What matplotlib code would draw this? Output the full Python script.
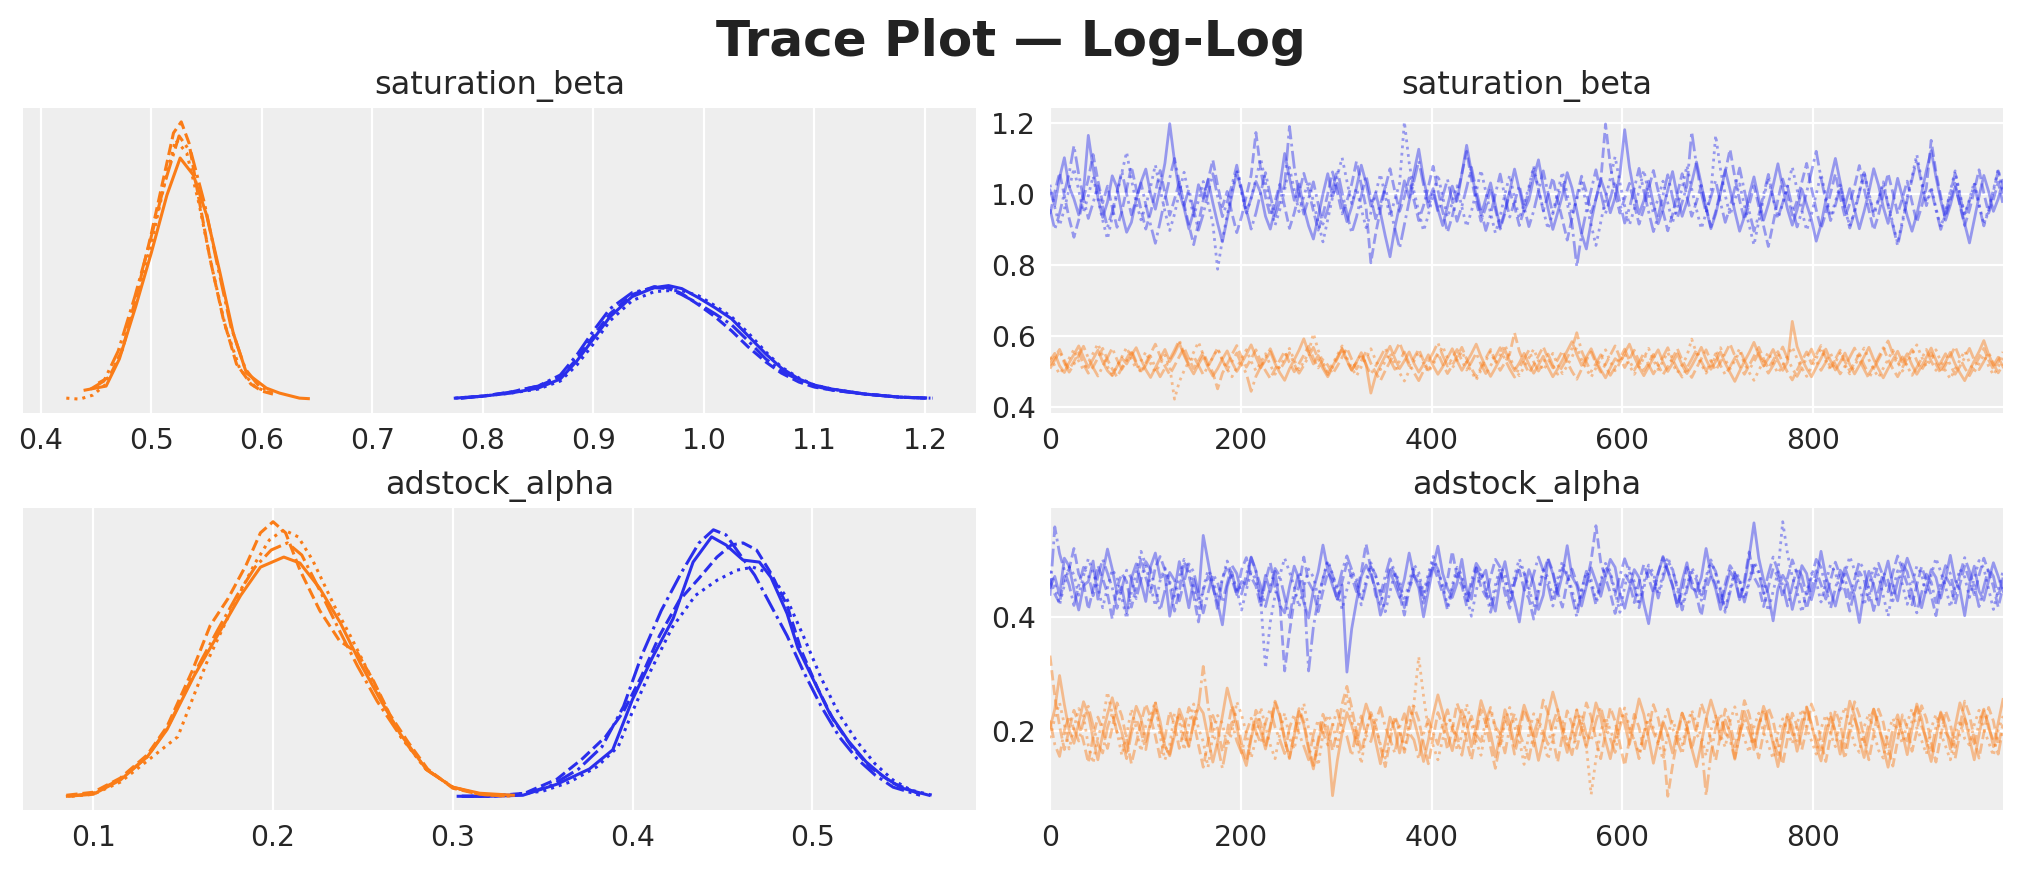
import numpy as np
import matplotlib
matplotlib.use("Agg")
import matplotlib.pyplot as plt
from matplotlib.ticker import MultipleLocator

# ---------------- data ----------------
n_draws = 1000
variables = ["saturation_beta", "adstock_alpha"]
model_colors = ["#2a2eec", "#fa7c17"]          # blue model, orange model
chain_styles = ["-", "--", ":", "-."]

# thinned posterior draws (every 5th draw), values x1000, 4 chains each
sat_beta_blue = [
    [1012, 968, 1047, 1103, 1021, 987, 942, 1008, 1166, 1074, 991, 935, 978, 1052, 1019, 947, 893, 921, 986, 1034,
     1071, 1002, 958, 1017, 1088, 1199, 1093, 1006, 961, 903, 952, 1027, 989, 1041, 976, 918, 866, 931, 998, 1062,
     1013, 947, 989, 1036, 1004, 938, 902, 957, 1023, 1115, 1047, 983, 1029, 962, 911, 874, 936, 1001, 1058, 994,
     1031, 976, 923, 965, 1019, 1082, 1032, 967, 1004, 948, 883, 824, 905, 969, 1038, 991, 1062, 1127, 1044, 979,
     1016, 958, 912, 966, 1023, 981, 1057, 1138, 1063, 996, 942, 987, 1032, 969, 907, 954, 1009, 1071, 1012, 953,
     984, 1046, 1097, 1022, 959, 901, 948, 997, 1061, 1018, 954, 888, 846, 922, 987, 1043, 1004, 948, 991, 1056,
     1182, 1076, 1003, 945, 982, 1037, 973, 917, 959, 1011, 1064, 995, 938, 979, 1033, 1091, 1028, 961, 903, 944,
     1002, 1069, 1013, 952, 896, 937, 998, 1049, 986, 927, 972, 1025, 1086, 1019, 958, 913, 956, 1014, 971, 929,
     868, 914, 983, 1042, 1101, 1035, 969, 1016, 957, 903, 952, 1007, 1072, 1026, 964, 918, 977, 1045, 992, 939,
     896, 943, 1004, 1067, 1123, 1049, 983, 927, 969, 1021, 974, 917, 863, 928, 994, 1053, 1008, 952, 987, 1039],
    [944, 1006, 1061, 997, 932, 879, 928, 989, 1043, 1112, 1039, 976, 1023, 963, 907, 951, 1014, 1078, 1016, 957,
     902, 948, 1005, 1067, 1003, 941, 986, 1034, 972, 913, 858, 919, 983, 1039, 1097, 1025, 965, 1008, 946, 892,
     937, 996, 1054, 1174, 1069, 992, 939, 981, 1028, 966, 904, 947, 1003, 1059, 1011, 953, 899, 942, 1001, 1063,
     1006, 945, 981, 1029, 1093, 1026, 962, 807, 889, 957, 1018, 1072, 1009, 952, 993, 1046, 983, 926, 968, 1021,
     1079, 1011, 951, 893, 938, 997, 1058, 1121, 1043, 979, 924, 963, 1017, 958, 902, 946, 1007, 966, 912, 957,
     1012, 1071, 1013, 954, 997, 1047, 983, 929, 871, 932, 994, 1051, 1006, 948, 987, 1036, 1198, 1082, 1004, 947,
     989, 1031, 972, 916, 959, 1015, 1067, 1009, 951, 897, 943, 1002, 1058, 994, 938, 979, 1025, 964, 908, 951,
     1008, 1063, 1127, 1048, 983, 928, 971, 1024, 968, 911, 853, 918, 985, 1043, 996, 941, 982, 1034, 1087, 1018,
     956, 903, 947, 1004, 1058, 993, 936, 974, 1022, 1081, 1016, 955, 899, 942, 1001, 1059, 1004, 945, 989, 1037,
     978, 921, 965, 1019, 1152, 1063, 994, 937, 982, 1031, 968, 912, 956, 1011, 1069, 1003, 947, 986, 1034, 972],
    [1027, 963, 912, 958, 1016, 1073, 1011, 949, 996, 1051, 986, 927, 874, 936, 1002, 1061, 1119, 1042, 976, 928,
     967, 1021, 1083, 1014, 952, 898, 944, 1005, 1062, 998, 939, 982, 1036, 975, 918, 789, 873, 941, 1009, 1068,
     1004, 946, 989, 1043, 1101, 1032, 968, 913, 957, 1013, 1076, 1012, 951, 994, 1039, 978, 921, 866, 929, 992,
     1052, 1103, 1037, 974, 1018, 959, 906, 948, 1003, 1057, 996, 938, 984, 1031, 1204, 1089, 1008, 951, 897, 941,
     999, 1056, 992, 935, 976, 1024, 964, 909, 952, 1007, 1068, 1007, 947, 891, 937, 1001, 1054, 989, 931, 973,
     1021, 1079, 1015, 956, 902, 948, 1006, 1063, 999, 942, 985, 1033, 971, 914, 856, 921, 988, 1045, 1106, 1033,
     967, 914, 958, 1011, 1068, 1004, 946, 989, 1037, 976, 921, 965, 1018, 1081, 1015, 957, 903, 947, 1004, 1166,
     1071, 997, 941, 984, 1029, 968, 912, 857, 924, 989, 1046, 986, 931, 973, 1022, 1077, 1013, 954, 898, 943,
     1001, 1058, 994, 937, 979, 1026, 965, 909, 953, 1008, 1064, 1003, 946, 988, 1035, 974, 918, 862, 926, 992,
     1049, 1112, 1041, 977, 1021, 962, 907, 951, 1009, 1066, 1002, 944, 986, 1034, 973, 915, 959, 1013, 1071, 1008],
    [958, 901, 946, 1004, 1059, 1137, 1056, 988, 932, 976, 1024, 963, 907, 951, 1008, 1065, 1001, 942, 985, 1032,
     971, 914, 862, 923, 987, 1046, 1101, 1033, 969, 1014, 956, 899, 944, 1002, 1058, 994, 937, 978, 1026, 1082,
     1016, 956, 902, 947, 1005, 1061, 997, 938, 981, 1028, 1191, 1077, 1001, 944, 988, 1035, 973, 916, 958, 1013,
     1069, 1005, 946, 891, 936, 996, 1053, 989, 931, 973, 1021, 961, 905, 848, 915, 981, 1038, 1094, 1027, 963,
     1007, 951, 994, 1042, 981, 924, 966, 1019, 1076, 1011, 953, 898, 943, 1001, 1057, 993, 936, 978, 1025, 964,
     909, 953, 1009, 1066, 1003, 945, 988, 1036, 974, 917, 796, 887, 954, 1012, 1069, 1004, 946, 989, 1037, 976,
     919, 962, 1016, 1073, 1009, 951, 895, 939, 998, 1055, 991, 934, 977, 1024, 1176, 1081, 1004, 948, 992, 1039,
     977, 921, 964, 1017, 1074, 1010, 952, 896, 941, 999, 1056, 992, 935, 976, 1023, 963, 908, 952, 1006, 1063,
     1121, 1046, 981, 926, 969, 1021, 961, 905, 949, 1004, 1061, 997, 939, 982, 1029, 968, 912, 855, 919, 985,
     1041, 1098, 1031, 968, 1013, 956, 901, 945, 1003, 1059, 995, 938, 981, 1028, 967, 911, 955, 1009, 1066, 1002],
]
sat_beta_orange = [
    [531, 552, 517, 498, 526, 549, 573, 541, 512, 536, 561, 528, 503, 489, 515, 539, 522, 547, 568, 535,
     506, 484, 511, 538, 563, 529, 552, 581, 546, 517, 494, 521, 544, 513, 488, 509, 536, 559, 527, 501,
     524, 549, 576, 542, 511, 533, 557, 523, 497, 476, 508, 534, 561, 593, 553, 522, 546, 518, 492, 515,
     541, 566, 532, 505, 528, 554, 521, 440, 489, 518, 545, 572, 538, 509, 531, 556, 524, 499, 521, 548,
     517, 493, 514, 539, 565, 531, 504, 527, 551, 578, 543, 514, 487, 511, 537, 562, 529, 503, 525, 552,
     521, 496, 519, 544, 512, 486, 508, 533, 559, 585, 549, 518, 541, 565, 532, 506, 483, 511, 537, 526,
     553, 578, 542, 513, 489, 514, 539, 562, 528, 501, 524, 551, 519, 495, 517, 542, 569, 535, 507, 529,
     556, 524, 498, 473, 502, 529, 554, 583, 547, 516, 538, 563, 531, 504, 527, 642, 571, 536, 509, 486,
     512, 538, 564, 531, 505, 527, 553, 521, 494, 518, 543, 569, 535, 508, 483, 509, 534, 558, 527, 551,
     519, 493, 516, 541, 567, 533, 506, 528, 555, 522, 497, 475, 504, 531, 557, 588, 549, 518, 541, 514],
    [518, 541, 563, 532, 507, 529, 554, 521, 496, 514, 539, 566, 534, 508, 485, 511, 537, 561, 528, 502,
     525, 551, 578, 544, 516, 492, 517, 543, 568, 536, 509, 531, 555, 523, 498, 452, 496, 522, 549, 574,
     541, 513, 537, 562, 529, 503, 481, 508, 533, 558, 526, 500, 523, 547, 572, 538, 511, 534, 519, 494,
     516, 541, 567, 535, 508, 531, 557, 524, 498, 475, 503, 529, 554, 582, 546, 517, 539, 564, 531, 505,
     528, 553, 521, 495, 518, 543, 569, 536, 509, 486, 512, 538, 563, 530, 504, 526, 551, 610, 558, 524,
     497, 519, 545, 571, 537, 511, 534, 559, 527, 501, 479, 507, 533, 556, 524, 499, 521, 547, 573, 540,
     512, 536, 561, 529, 503, 525, 549, 518, 492, 514, 539, 565, 533, 507, 484, 511, 537, 562, 530, 504,
     527, 552, 579, 545, 516, 493, 518, 544, 569, 537, 510, 532, 557, 525, 499, 477, 505, 531, 556, 523,
     548, 574, 540, 513, 536, 561, 529, 502, 525, 551, 519, 494, 516, 542, 568, 535, 508, 486, 512, 538,
     563, 531, 505, 528, 553, 522, 496, 519, 544, 571, 538, 511, 489, 515, 540, 566, 533, 507, 530, 556],
    [542, 517, 494, 513, 538, 563, 530, 505, 527, 552, 579, 545, 515, 491, 517, 542, 569, 536, 508, 531,
     556, 524, 499, 521, 547, 514, 423, 472, 503, 529, 555, 584, 548, 518, 540, 565, 533, 507, 486, 511,
     537, 562, 529, 503, 526, 551, 519, 493, 515, 540, 566, 532, 506, 528, 554, 608, 561, 526, 500, 522,
     547, 573, 539, 511, 488, 514, 539, 565, 533, 506, 529, 554, 522, 497, 474, 503, 530, 556, 524, 499,
     521, 546, 572, 538, 510, 533, 558, 526, 500, 477, 505, 531, 557, 525, 548, 576, 541, 512, 489, 514,
     539, 564, 531, 504, 527, 552, 520, 495, 517, 542, 569, 535, 508, 485, 511, 536, 562, 529, 503, 525,
     551, 518, 493, 514, 539, 566, 533, 506, 530, 555, 523, 497, 519, 545, 592, 552, 521, 496, 518, 543,
     568, 535, 508, 531, 557, 524, 498, 476, 504, 530, 555, 522, 496, 519, 544, 570, 537, 510, 487, 513,
     538, 564, 531, 505, 527, 553, 520, 494, 517, 541, 567, 534, 507, 484, 510, 535, 561, 528, 502, 525,
     550, 576, 542, 514, 537, 562, 529, 503, 480, 508, 533, 559, 526, 500, 523, 548, 516, 491, 514, 539],
    [509, 533, 558, 525, 499, 521, 546, 572, 539, 512, 488, 515, 540, 567, 534, 507, 530, 555, 523, 497,
     519, 544, 512, 486, 510, 535, 561, 589, 551, 521, 544, 518, 492, 515, 541, 567, 533, 506, 529, 553,
     521, 495, 445, 487, 514, 539, 565, 532, 506, 528, 554, 521, 496, 518, 543, 569, 536, 509, 486, 512,
     537, 563, 530, 504, 526, 551, 519, 493, 516, 541, 567, 534, 507, 530, 556, 523, 498, 475, 503, 529,
     554, 582, 546, 516, 538, 563, 531, 505, 527, 553, 521, 495, 517, 542, 568, 535, 508, 485, 511, 536,
     561, 528, 502, 525, 550, 518, 493, 515, 540, 566, 610, 559, 527, 501, 523, 548, 516, 490, 513, 538,
     564, 531, 505, 527, 553, 520, 494, 517, 542, 568, 535, 508, 485, 511, 536, 562, 529, 503, 525, 551,
     518, 492, 514, 539, 565, 532, 506, 528, 554, 521, 496, 518, 543, 570, 537, 510, 487, 513, 538, 564,
     531, 504, 527, 552, 520, 494, 516, 541, 567, 534, 507, 481, 509, 534, 560, 587, 550, 519, 542, 516,
     490, 512, 537, 563, 530, 504, 526, 551, 519, 493, 515, 540, 566, 533, 506, 529, 555, 522, 497, 520],
]
adstock_alpha_blue = [
    [452, 471, 438, 503, 489, 447, 412, 455, 462, 498, 431, 476, 519, 484, 441, 452, 407, 468, 493, 461,
     427, 488, 512, 469, 473, 401, 446, 497, 458, 416, 466, 432, 543, 497, 451, 424, 386, 453, 478, 439,
     462, 457, 505, 481, 428, 473, 444, 480, 420, 407, 452, 489, 466, 425, 398, 447, 479, 526, 483, 455,
     431, 456, 303, 379, 427, 471, 491, 474, 449, 403, 428, 481, 457, 434, 466, 512, 472, 451, 400, 445,
     488, 524, 476, 450, 434, 459, 501, 447, 431, 486, 467, 482, 436, 410, 465, 497, 453, 427, 391, 448,
     483, 459, 413, 438, 500, 476, 440, 474, 525, 471, 455, 419, 454, 486, 462, 436, 471, 501, 487, 441,
     415, 451, 483, 469, 423, 388, 444, 478, 504, 480, 454, 418, 463, 495, 451, 445, 469, 520, 476, 449,
     413, 448, 480, 466, 430, 455, 506, 565, 503, 465, 439, 393, 449, 473, 459, 413, 448, 490, 476, 430,
     464, 515, 471, 445, 419, 454, 486, 462, 436, 390, 446, 480, 456, 421, 466, 498, 454, 428, 472, 503,
     479, 452, 416, 451, 483, 469, 433, 467, 508, 464, 448, 402, 457, 489, 445, 429, 464, 495, 471, 445],
    [466, 440, 424, 470, 484, 520, 475, 459, 413, 448, 490, 467, 441, 396, 452, 476, 462, 417, 451, 503,
     469, 443, 487, 506, 482, 456, 410, 445, 497, 473, 437, 391, 447, 471, 457, 412, 467, 489, 465, 439,
     483, 504, 470, 454, 418, 463, 495, 451, 425, 305, 372, 430, 454, 505, 461, 445, 409, 445, 478, 464,
     428, 462, 494, 470, 444, 478, 528, 484, 438, 422, 457, 489, 475, 439, 403, 449, 473, 459, 424, 459,
     491, 467, 441, 465, 515, 471, 455, 419, 454, 486, 452, 436, 470, 501, 487, 441, 415, 460, 482, 448,
     432, 396, 442, 476, 503, 479, 443, 417, 462, 484, 460, 434, 458, 499, 560, 496, 468, 442, 406, 441,
     475, 461, 425, 460, 492, 468, 442, 476, 506, 482, 456, 420, 445, 487, 463, 437, 402, 448, 472, 458,
     423, 458, 490, 476, 430, 464, 514, 470, 454, 418, 453, 485, 471, 435, 469, 500, 476, 450, 414, 449,
     481, 457, 431, 465, 496, 472, 446, 410, 446, 479, 465, 429, 463, 494, 470, 444, 478, 507, 483, 457,
     421, 456, 488, 464, 438, 402, 447, 471, 457, 422, 457, 489, 465, 439, 473, 503, 479, 453, 417, 452],
    [481, 457, 421, 456, 488, 474, 438, 472, 502, 478, 452, 416, 451, 483, 469, 433, 397, 443, 477, 515,
     491, 455, 419, 464, 486, 462, 436, 470, 501, 487, 451, 415, 450, 482, 468, 432, 467, 498, 474, 448,
     412, 447, 479, 465, 429, 310, 391, 438, 473, 503, 479, 453, 417, 452, 484, 470, 434, 468, 499, 475,
     449, 413, 448, 480, 466, 430, 464, 495, 471, 445, 409, 444, 477, 463, 427, 461, 492, 478, 442, 476,
     506, 482, 456, 420, 455, 487, 473, 437, 401, 446, 480, 456, 421, 456, 488, 474, 438, 472, 502, 478,
     452, 416, 451, 483, 469, 433, 467, 498, 474, 448, 412, 447, 479, 465, 429, 463, 494, 480, 444, 408,
     453, 486, 462, 426, 460, 491, 477, 441, 475, 505, 481, 455, 419, 454, 486, 472, 436, 470, 500, 476,
     450, 414, 449, 481, 467, 431, 465, 496, 482, 446, 410, 445, 478, 567, 511, 470, 444, 408, 443, 476,
     462, 426, 461, 492, 478, 442, 476, 506, 482, 456, 420, 455, 487, 473, 437, 401, 447, 481, 457, 422,
     457, 489, 475, 439, 473, 503, 479, 453, 417, 452, 484, 470, 434, 468, 499, 485, 449, 413, 448, 480],
    [437, 558, 511, 482, 456, 420, 455, 487, 473, 437, 471, 501, 477, 451, 415, 450, 482, 468, 432, 466,
     497, 483, 447, 411, 446, 478, 464, 428, 462, 493, 479, 443, 407, 442, 475, 461, 425, 459, 490, 476,
     440, 474, 504, 480, 454, 418, 453, 485, 471, 435, 399, 445, 479, 455, 305, 382, 431, 466, 497, 473,
     447, 481, 507, 483, 457, 421, 456, 488, 474, 438, 472, 502, 478, 452, 416, 451, 483, 469, 433, 467,
     498, 484, 448, 412, 447, 479, 465, 429, 463, 494, 480, 444, 408, 443, 476, 462, 426, 460, 491, 477,
     441, 475, 505, 481, 455, 419, 454, 486, 472, 436, 400, 446, 480, 456, 421, 456, 488, 474, 438, 472,
     502, 478, 452, 416, 451, 483, 469, 433, 467, 498, 484, 448, 412, 447, 479, 465, 429, 463, 494, 480,
     444, 408, 443, 476, 462, 426, 460, 491, 477, 441, 475, 505, 481, 455, 419, 454, 486, 472, 436, 470,
     501, 487, 451, 415, 450, 482, 468, 432, 466, 497, 483, 447, 411, 446, 478, 464, 428, 462, 493, 479,
     443, 407, 442, 475, 461, 425, 459, 490, 476, 440, 474, 504, 480, 454, 418, 453, 485, 471, 435, 469],
]
adstock_alpha_orange = [
    [205, 238, 297, 246, 201, 178, 213, 251, 229, 186, 149, 194, 229, 258, 224, 197, 162, 208, 243, 222,
     181, 214, 249, 216, 173, 156, 192, 238, 215, 174, 211, 244, 231, 188, 145, 181, 226, 275, 242, 207,
     163, 139, 186, 221, 199, 168, 204, 249, 226, 184, 153, 191, 234, 211, 166, 133, 179, 214, 191, 86,
     148, 196, 232, 209, 177, 213, 247, 222, 181, 142, 179, 224, 201, 161, 197, 242, 219, 187, 146, 183,
     228, 263, 232, 194, 165, 201, 236, 213, 172, 208, 253, 227, 195, 154, 191, 237, 214, 173, 209, 245,
     221, 189, 148, 185, 231, 268, 237, 196, 162, 201, 236, 203, 171, 207, 249, 224, 182, 151, 193, 239,
     212, 176, 214, 256, 229, 187, 143, 181, 216, 194, 161, 198, 231, 208, 169, 137, 178, 221, 254, 226,
     185, 219, 196, 152, 191, 234, 209, 167, 206, 243, 218, 176, 137, 182, 229, 207, 164, 199, 241, 213,
     173, 147, 189, 224, 198, 159, 204, 252, 227, 184, 153, 195, 238, 212, 171, 136, 176, 219, 196, 158,
     202, 247, 221, 179, 146, 188, 233, 209, 168, 207, 249, 224, 186, 149, 193, 235, 211, 172, 214, 255],
    [332, 261, 208, 167, 202, 236, 213, 181, 144, 189, 224, 201, 169, 205, 249, 226, 185, 142, 178, 214,
     247, 223, 191, 152, 188, 234, 211, 169, 204, 241, 217, 175, 136, 182, 227, 204, 163, 199, 244, 221,
     178, 146, 191, 236, 213, 172, 208, 252, 229, 186, 151, 196, 239, 216, 173, 139, 184, 229, 206, 165,
     201, 247, 278, 241, 199, 163, 198, 232, 209, 171, 137, 181, 226, 203, 162, 198, 243, 219, 178, 142,
     187, 232, 209, 167, 203, 248, 225, 183, 149, 194, 237, 213, 171, 134, 179, 224, 201, 159, 194, 238,
     214, 173, 208, 254, 231, 188, 145, 191, 235, 212, 169, 205, 249, 225, 184, 151, 196, 241, 217, 176,
     139, 184, 229, 206, 165, 201, 246, 222, 181, 85, 139, 186, 231, 208, 167, 203, 248, 224, 182, 148,
     193, 238, 214, 172, 208, 253, 229, 187, 152, 197, 241, 218, 176, 141, 186, 231, 208, 167, 203, 247,
     223, 181, 146, 191, 236, 212, 170, 206, 251, 227, 185, 149, 194, 238, 215, 173, 138, 183, 228, 205,
     164, 199, 244, 221, 179, 145, 190, 235, 212, 171, 207, 252, 228, 186, 152, 197, 241, 217, 175, 211],
    [187, 222, 249, 211, 168, 204, 239, 226, 174, 143, 189, 214, 268, 229, 198, 157, 193, 238, 205, 164,
     210, 225, 252, 190, 149, 175, 231, 218, 166, 212, 247, 204, 181, 136, 192, 227, 213, 172, 197, 251,
     228, 196, 152, 186, 241, 207, 175, 151, 196, 231, 188, 167, 213, 248, 204, 183, 139, 194, 228, 214,
     172, 217, 262, 218, 186, 142, 197, 231, 208, 176, 152, 197, 222, 199, 168, 214, 249, 330, 261, 203,
     174, 149, 185, 220, 217, 166, 192, 247, 213, 181, 157, 202, 236, 203, 171, 216, 241, 207, 185, 141,
     196, 230, 216, 184, 150, 185, 220, 217, 176, 192, 237, 214, 172, 88, 151, 199, 224, 201, 179, 215,
     240, 206, 184, 160, 195, 229, 205, 183, 149, 194, 219, 196, 175, 211, 236, 212, 190, 156, 201, 226,
     193, 171, 217, 242, 208, 186, 162, 207, 231, 197, 175, 151, 196, 221, 198, 177, 213, 238, 204, 183,
     159, 204, 228, 194, 172, 217, 242, 208, 176, 162, 207, 231, 198, 166, 152, 197, 222, 199, 178, 214,
     239, 205, 183, 159, 204, 229, 195, 173, 149, 194, 219, 186, 175, 211, 236, 202, 180, 156, 201, 226],
    [218, 176, 155, 201, 226, 203, 182, 218, 243, 209, 177, 161, 206, 231, 197, 185, 151, 196, 221, 198,
     167, 213, 238, 204, 173, 159, 204, 228, 194, 172, 217, 242, 313, 244, 196, 175, 134, 180, 215, 182,
     161, 197, 222, 199, 178, 214, 239, 206, 184, 160, 205, 229, 195, 173, 149, 194, 219, 196, 175, 211,
     236, 202, 190, 156, 201, 226, 192, 181, 216, 241, 207, 185, 161, 206, 230, 196, 184, 150, 195, 220,
     197, 176, 212, 237, 203, 191, 157, 202, 226, 193, 181, 216, 241, 207, 195, 161, 206, 230, 196, 174,
     150, 195, 220, 197, 176, 212, 237, 204, 182, 158, 203, 227, 194, 182, 217, 242, 208, 186, 162, 207,
     231, 197, 185, 151, 196, 221, 198, 177, 213, 238, 204, 183, 159, 204, 228, 194, 182, 86, 159, 205,
     230, 196, 184, 150, 195, 220, 197, 176, 212, 237, 204, 182, 158, 203, 227, 194, 182, 217, 242, 208,
     186, 162, 207, 231, 197, 185, 151, 196, 221, 198, 177, 213, 238, 204, 183, 159, 204, 228, 194, 182,
     217, 242, 208, 186, 162, 207, 231, 197, 185, 151, 196, 221, 198, 177, 213, 238, 204, 183, 159, 204],
]

# per-chain kernel density estimates (relative density units)
sat_beta_blue_kde_x = [
    [0.775, 0.80, 0.825, 0.85, 0.87, 0.885, 0.90, 0.915, 0.935, 0.955, 0.968, 0.98, 0.995, 1.01, 1.025, 1.04, 1.056, 1.07, 1.086, 1.10, 1.116, 1.146, 1.177, 1.20],
    [0.780, 0.80, 0.825, 0.85, 0.87, 0.885, 0.90, 0.915, 0.935, 0.955, 0.968, 0.98, 0.995, 1.01, 1.025, 1.04, 1.056, 1.07, 1.086, 1.10, 1.116, 1.146, 1.177, 1.20],
    [0.775, 0.80, 0.825, 0.85, 0.87, 0.885, 0.90, 0.915, 0.935, 0.955, 0.968, 0.98, 0.995, 1.01, 1.025, 1.04, 1.056, 1.07, 1.086, 1.10, 1.116, 1.146, 1.177, 1.207],
    [0.780, 0.80, 0.825, 0.85, 0.87, 0.885, 0.90, 0.915, 0.935, 0.955, 0.968, 0.98, 0.995, 1.01, 1.025, 1.04, 1.056, 1.07, 1.086, 1.10, 1.116, 1.146, 1.177, 1.205],
]
sat_beta_blue_kde_y = [
    [1, 3, 6, 11, 20, 38, 60, 82, 102, 111, 113, 110, 101, 91, 80, 63, 45, 31, 20, 14, 10, 5, 2, 1],
    [1, 3, 7, 13, 22, 40, 63, 85, 104, 112, 111, 105, 94, 82, 68, 52, 37, 26, 17, 12, 9, 5, 2, 1],
    [1, 3, 6, 10, 18, 34, 55, 78, 98, 107, 108, 108, 103, 93, 82, 66, 47, 32, 21, 14, 10, 5, 2, 1],
    [1, 3, 7, 13, 24, 44, 68, 90, 106, 111, 110, 104, 95, 85, 74, 58, 40, 28, 19, 13, 9, 5, 2, 1],
]
sat_beta_orange_kde_x = [
    [0.440, 0.459, 0.471, 0.486, 0.500, 0.514, 0.526, 0.538, 0.550, 0.562, 0.574, 0.586, 0.604, 0.616, 0.634, 0.642],
    [0.452, 0.462, 0.474, 0.488, 0.500, 0.512, 0.520, 0.527, 0.534, 0.542, 0.553, 0.565, 0.577, 0.590, 0.600, 0.610],
    [0.423, 0.435, 0.447, 0.459, 0.472, 0.487, 0.500, 0.512, 0.522, 0.532, 0.543, 0.555, 0.567, 0.580, 0.594, 0.608],
    [0.445, 0.457, 0.470, 0.485, 0.499, 0.512, 0.525, 0.536, 0.548, 0.560, 0.572, 0.585, 0.598, 0.610],
]
sat_beta_orange_kde_y = [
    [9, 13, 40, 93, 146, 203, 240, 223, 183, 126, 66, 26, 11, 6, 1, 0.5],
    [16, 22, 50, 110, 165, 225, 265, 276, 255, 205, 140, 80, 35, 15, 8, 5],
    [1, 0, 4, 15, 45, 100, 155, 215, 258, 245, 195, 130, 72, 30, 12, 6],
    [10, 18, 48, 102, 158, 215, 262, 245, 195, 132, 72, 30, 12, 7],
]
adstock_alpha_blue_kde_x = [
    [0.303, 0.32, 0.339, 0.358, 0.376, 0.389, 0.400, 0.4115, 0.4226, 0.4337, 0.444, 0.452, 0.4615, 0.4706, 0.477, 0.486, 0.492, 0.501, 0.51, 0.52, 0.53, 0.54, 0.55, 0.565],
    [0.305, 0.32, 0.34, 0.358, 0.372, 0.385, 0.395, 0.405, 0.415, 0.426, 0.437, 0.447, 0.455, 0.4615, 0.469, 0.477, 0.486, 0.494, 0.503, 0.512, 0.522, 0.532, 0.545, 0.56],
    [0.31, 0.33, 0.35, 0.365, 0.38, 0.392, 0.40, 0.41, 0.422, 0.435, 0.447, 0.458, 0.467, 0.476, 0.485, 0.495, 0.505, 0.515, 0.525, 0.535, 0.545, 0.555, 0.567],
    [0.305, 0.32, 0.34, 0.355, 0.37, 0.383, 0.395, 0.405, 0.416, 0.427, 0.437, 0.445, 0.452, 0.46, 0.468, 0.477, 0.486, 0.495, 0.505, 0.515, 0.525, 0.535, 0.545, 0.56],
]
adstock_alpha_blue_kde_y = [
    [1, 1, 2, 13, 28, 47, 97, 140, 177, 233, 258, 250, 235, 233, 218, 182, 148, 115, 82, 56, 35, 20, 9, 2],
    [1, 1, 4, 18, 38, 60, 85, 120, 160, 195, 217, 238, 250, 252, 245, 222, 190, 145, 108, 76, 50, 30, 14, 3],
    [1, 2, 6, 15, 30, 50, 85, 125, 168, 200, 215, 225, 228, 222, 200, 160, 118, 82, 55, 33, 17, 7, 2],
    [1, 1, 3, 12, 28, 50, 90, 140, 185, 222, 252, 265, 260, 240, 220, 190, 160, 125, 90, 60, 38, 22, 10, 2],
]
adstock_alpha_orange_kde_x = [
    [0.0856, 0.10, 0.115, 0.130, 0.141, 0.156, 0.169, 0.182, 0.193, 0.206, 0.215, 0.226, 0.2374, 0.2485, 0.2596, 0.2707, 0.2856, 0.300, 0.315, 0.3337],
    [0.085, 0.10, 0.115, 0.13, 0.141, 0.155, 0.165, 0.175, 0.185, 0.193, 0.200, 0.207, 0.215, 0.226, 0.237, 0.247, 0.256, 0.265, 0.275, 0.286, 0.300, 0.315, 0.332],
    [0.088, 0.10, 0.115, 0.13, 0.147, 0.163, 0.178, 0.19, 0.198, 0.206, 0.214, 0.222, 0.234, 0.243, 0.252, 0.262, 0.271, 0.285, 0.30, 0.315, 0.33],
    [0.086, 0.10, 0.115, 0.13, 0.141, 0.156, 0.169, 0.18, 0.19, 0.199, 0.208, 0.216, 0.226, 0.237, 0.247, 0.258, 0.27, 0.285, 0.30, 0.315, 0.333],
]
adstock_alpha_orange_kde_y = [
    [1, 3, 17, 40, 67, 120, 160, 200, 228, 238, 232, 207, 173, 133, 97, 63, 27, 10, 4, 2],
    [2, 5, 19, 42, 70, 125, 170, 197, 230, 262, 273, 262, 225, 185, 155, 143, 115, 82, 55, 28, 9, 3, 1],
    [1, 3, 15, 36, 60, 133, 190, 232, 255, 265, 258, 235, 190, 160, 128, 92, 60, 28, 10, 3, 1],
    [1, 4, 18, 40, 68, 122, 165, 200, 228, 245, 252, 240, 205, 165, 130, 95, 63, 28, 10, 3, 1],
]

traces = {
    "saturation_beta": [sat_beta_blue, sat_beta_orange],
    "adstock_alpha": [adstock_alpha_blue, adstock_alpha_orange],
}
kdes = {
    "saturation_beta": [(sat_beta_blue_kde_x, sat_beta_blue_kde_y), (sat_beta_orange_kde_x, sat_beta_orange_kde_y)],
    "adstock_alpha": [(adstock_alpha_blue_kde_x, adstock_alpha_blue_kde_y), (adstock_alpha_orange_kde_x, adstock_alpha_orange_kde_y)],
}

# ---------------- style ----------------
plt.rcParams["font.family"] = ["DejaVu Sans"]
text_color = "#262626"
bg = "#eeeeee"

W, H, DPI = 2023, 871, 200
fig = plt.figure(figsize=(W / DPI, H / DPI), dpi=DPI)

def px_axes(x0, y0, x1, y1):
    return fig.add_axes([x0 / W, 1 - y1 / H, (x1 - x0) / W, (y1 - y0) / H])

rows = [(108, 413), (508, 810)]
axes = []
for (y0, y1) in rows:
    axes.append((px_axes(23, y0, 976, y1), px_axes(1050, y0, 2003, y1)))

def style_ax(ax, grid_y=True):
    ax.set_facecolor(bg)
    for s in ax.spines.values():
        s.set_visible(False)
    ax.tick_params(length=0, labelsize=10.2, colors=text_color, pad=5)
    ax.grid(True, axis="x", color="white", linewidth=0.8)
    if grid_y:
        ax.grid(True, axis="y", color="white", linewidth=0.8)
    ax.set_axisbelow(True)

for r, var in enumerate(variables):
    ax_kde, ax_tr = axes[r]
    style_ax(ax_kde, grid_y=False)
    style_ax(ax_tr, grid_y=True)
    # KDE panel
    for m, (kx, ky) in enumerate(kdes[var]):
        for c in range(4):
            ax_kde.plot(kx[c], ky[c], color=model_colors[m], linestyle=chain_styles[c], linewidth=1.1)
    ax_kde.set_yticks([])
    ax_kde.xaxis.set_major_locator(MultipleLocator(0.1))
    ax_kde.set_title(var, fontsize=11.5, color=text_color, pad=5)
    # trace panel
    for m, chains in enumerate(traces[var]):
        for c in range(4):
            vals = np.asarray(chains[c]) / 1000.0
            draws = np.linspace(0, n_draws - 1, len(vals))
            ax_tr.plot(draws, vals, color=model_colors[m], linestyle=chain_styles[c], linewidth=1.0, alpha=0.45)
    ax_tr.set_xlim(0, n_draws - 1)
    ax_tr.xaxis.set_major_locator(MultipleLocator(200))
    ax_tr.yaxis.set_major_locator(MultipleLocator(0.2))
    ax_tr.set_title(var, fontsize=11.5, color=text_color, pad=5)

fig.text(1011 / W, 1 - 42 / H, "Trace Plot \u2014 Log-Log", ha="center", va="center",
         fontsize=18, fontweight="bold", color="#222222")

fig.savefig("out.png", dpi=DPI, facecolor="white")
